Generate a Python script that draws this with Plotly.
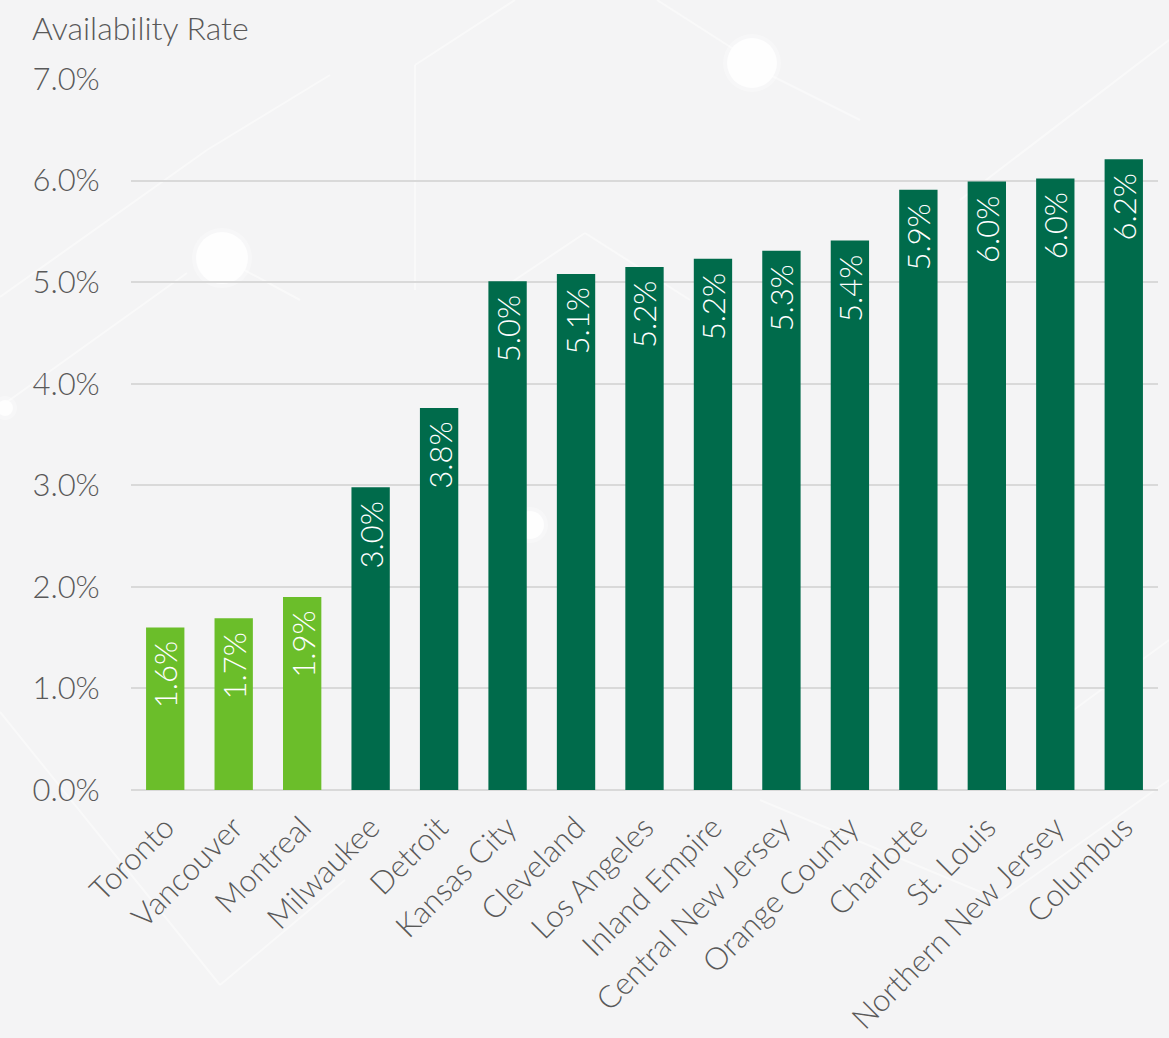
import plotly.graph_objects as go

# Industrial availability rate by market
markets = ["Toronto", "Vancouver", "Montreal", "Milwaukee", "Detroit", "Kansas City",
           "Cleveland", "Los Angeles", "Inland Empire", "Central New Jersey",
           "Orange County", "Charlotte", "St. Louis", "Northern New Jersey", "Columbus"]
availability = [1.60, 1.69, 1.90, 2.98, 3.76, 5.01, 5.08, 5.15, 5.23, 5.31,
                5.41, 5.91, 5.99, 6.02, 6.21]
is_canadian = [True, True, True] + [False] * 12

y_ticks = [0, 1, 2, 3, 4, 5, 6, 7]
y_tick_text = ["0.0%", "1.0%", "2.0%", "3.0%", "4.0%", "5.0%", "6.0%", "7.0%"]

LIGHT_GREEN = "#6BBE2A"
DARK_GREEN = "#006B4B"
TEXT_GRAY = "#595959"
FONT = "Lato, 'Noto Sans', sans-serif"

W, H = 1169, 1038
ML, MR, MT, MB = 131, 11, 79, 248

colors = [LIGHT_GREEN if c else DARK_GREEN for c in is_canadian]

fig = go.Figure(
    go.Bar(
        x=markets,
        y=availability,
        marker=dict(color=colors, line=dict(width=0)),
        width=0.56,
        hoverinfo="skip",
    )
)

# Value labels written vertically just inside the top of each bar
value_labels = [
    dict(x=m, y=v, text=f"{v:.1f}%", textangle=-90, showarrow=False,
         xanchor="center", yanchor="top", yshift=-12,
         font=dict(color="white", size=31, family=FONT, weight=300))
    for m, v in zip(markets, availability)
]


def px_to_paper(px, py):
    """Convert page pixel coordinates to paper coordinates of the plot area."""
    return (px - ML) / (W - ML - MR), (H - MB - py) / (H - MT - MB)


# Faint network pattern drawn behind the chart
shapes = []
decor_lines = [
    ((0, 297), (207, 150)), ((207, 150), (330, 75)),
    ((0, 407), (187, 273)), ((222, 258), (300, 300)),
    ((415, 65), (515, 0)), ((415, 65), (415, 290)),
    ((657, 0), (735, 50)), ((770, 75), (860, 120)),
    ((500, 290), (585, 233)), ((585, 233), (690, 300)),
    ((0, 712), (220, 985)), ((220, 985), (345, 880)),
    ((1169, 40), (960, 200)), ((1169, 640), (1060, 720)),
    ((760, 800), (1000, 900)), ((1000, 900), (1169, 780)),
]
for (x0, y0), (x1, y1) in decor_lines:
    a0, b0 = px_to_paper(x0, y0)
    a1, b1 = px_to_paper(x1, y1)
    shapes.append(dict(type="line", xref="paper", yref="paper", layer="below",
                       x0=a0, y0=b0, x1=a1, y1=b1,
                       line=dict(color="rgba(255,255,255,0.45)", width=2)))
decor_dots = [((222, 258), 26), ((752, 63), 25), ((5, 408), 8), ((530, 525), 14)]
for (cx, cy), r in decor_dots:
    a, b = px_to_paper(cx, cy)
    for rr, op in ((r + 4, 0.3), (r, 0.8)):
        shapes.append(dict(type="circle", xref="paper", yref="paper", layer="below",
                           xsizemode="pixel", ysizemode="pixel", xanchor=a, yanchor=b,
                           x0=-rr, x1=rr, y0=-rr, y1=rr,
                           fillcolor=f"rgba(255,255,255,{op})", line=dict(width=0)))

fig.update_layout(
    width=W,
    height=H,
    margin=dict(l=ML, r=MR, t=MT, b=MB, autoexpand=False),
    paper_bgcolor="#f4f4f5",
    plot_bgcolor="rgba(0,0,0,0)",
    font=dict(family=FONT, color=TEXT_GRAY),
    showlegend=False,
    shapes=shapes,
    annotations=value_labels + [dict(
        text="Availability Rate", xref="paper", yref="paper",
        x=-0.098, y=1.0, yshift=52, xanchor="left", yanchor="middle",
        showarrow=False, font=dict(size=32, color=TEXT_GRAY, family=FONT, weight=300),
    )],
    xaxis=dict(
        automargin=False,
        tickangle=-45,
        tickfont=dict(size=31, color=TEXT_GRAY, family=FONT, weight=300),
        showgrid=False,
        showline=False,
        ticks="outside",
        ticklen=6,
        tickcolor="rgba(0,0,0,0)",
    ),
    yaxis=dict(
        automargin=False,
        range=[0, 7],
        tickvals=y_ticks,
        ticktext=y_tick_text,
        tickfont=dict(size=31, color=TEXT_GRAY, family=FONT, weight=300),
        showgrid=True,
        gridcolor="#d9d9d9",
        gridwidth=2,
        zeroline=True,
        zerolinecolor="#d9d9d9",
        zerolinewidth=2,
        ticks="outside",
        ticklen=24,
        tickcolor="rgba(0,0,0,0)",
    ),
)

fig.write_html("out.html")
